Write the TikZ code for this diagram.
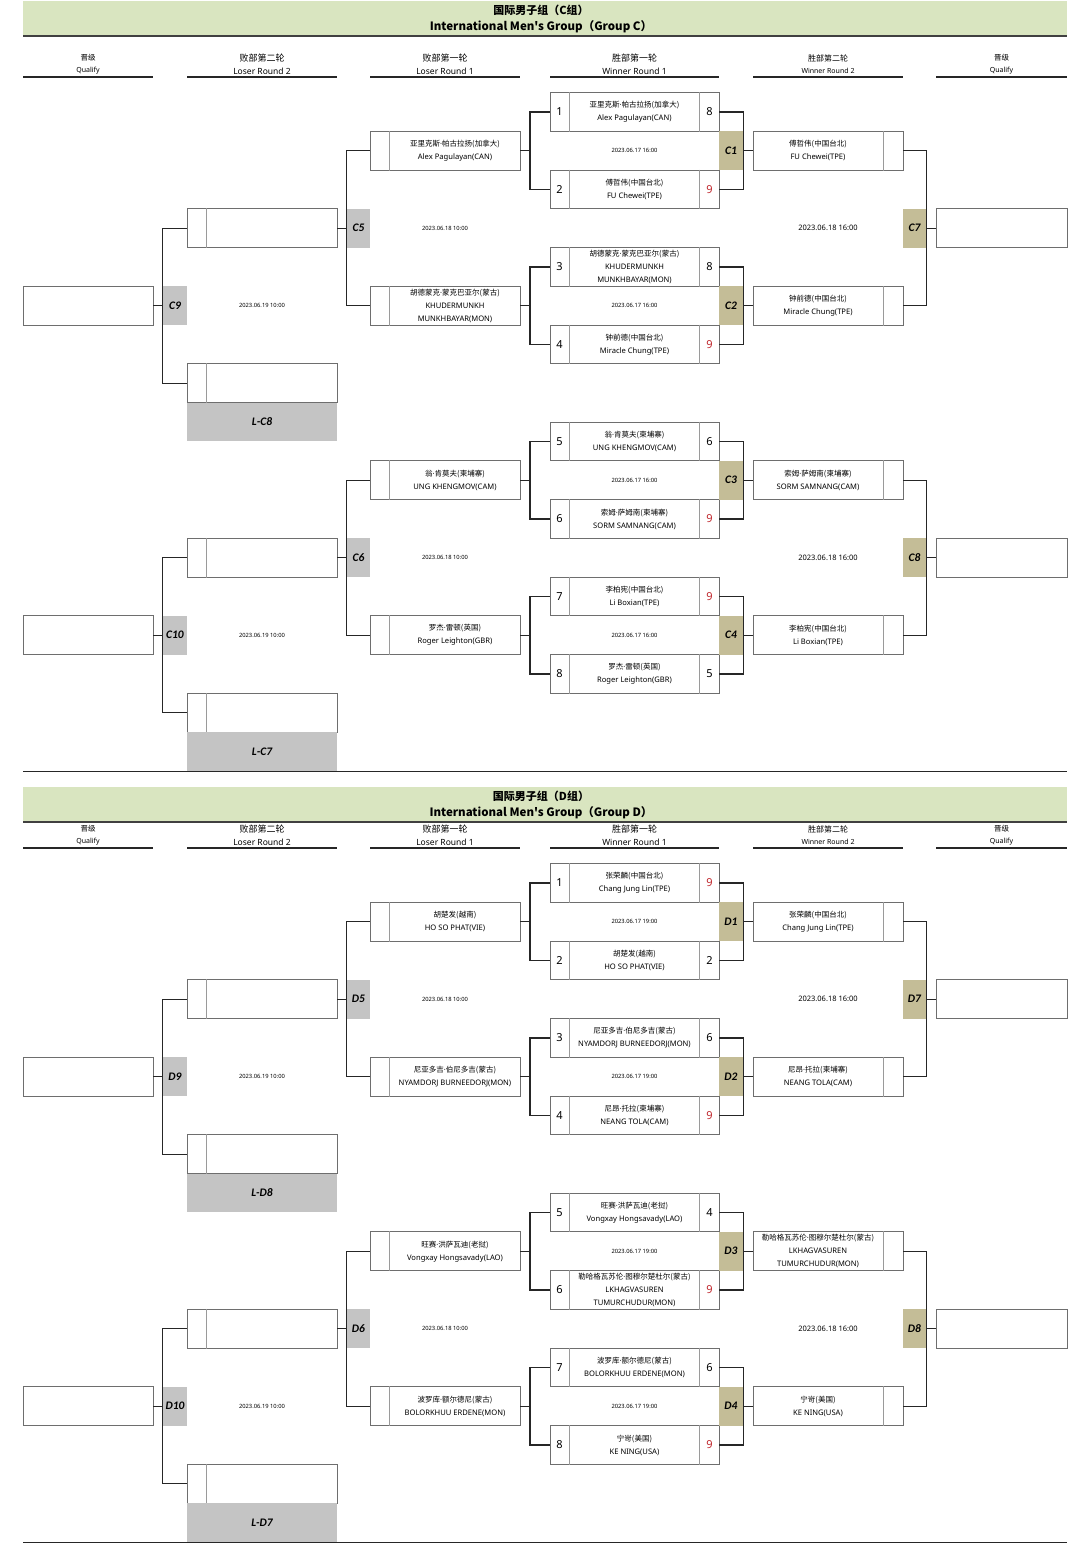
\documentclass[tikz,border=0pt]{standalone}
\usepackage{fontspec}
\setmainfont{Noto Sans}
\newfontfamily\cjk{Noto Sans CJK SC}
\newfontfamily\labf{Carlito}
\definecolor{band}{HTML}{D9E5C0}
\definecolor{khaki}{HTML}{C4BD97}
\definecolor{lgray}{HTML}{C4C4C4}
\definecolor{boxgray}{HTML}{6E6E6E}
\definecolor{divgray}{HTML}{9A9A9A}
\definecolor{scorered}{HTML}{C0272D}
\newcommand\zh[1]{{\cjk\fontsize{7.5}{13}\selectfont #1}}
\newcommand\md{{\rmfamily ·}}
\newcommand\wsc[1]{\textcolor{scorered}{#1}}
\tikzset{
  box/.style={draw=boxgray, line width=0.8pt, fill=white, rectangle, minimum height=38.75pt, inner sep=0pt},
  div/.style={draw=divgray, line width=1.2pt},
  conn/.style={draw=black!85, line width=1.2pt},
  seednum/.style={font=\fontsize{11}{13}\selectfont, inner sep=0pt},
  pname/.style={font=\fontsize{7.6}{13}\selectfont, align=center, inner sep=0pt},
  wlab/.style={fill=khaki, rectangle, minimum width=24pt, minimum height=38.75pt, inner sep=0pt, font=\labf\bfseries\itshape\fontsize{11.5}{13}\selectfont},
  llab/.style={wlab, fill=lgray},
  datesm/.style={font=\fontsize{5.8}{7}\selectfont, inner sep=0pt},
  datebig/.style={font=\fontsize{7.5}{9}\selectfont, inner sep=0pt},
}
\newcommand\WRb[5]{%
  \node[box, minimum width=169pt] (#1) at (634.5,{#2}) {};
  \draw[div] ([xshift=20pt]#1.north west) -- ([xshift=20pt]#1.south west);
  \draw[div] ([xshift=-20pt]#1.north east) -- ([xshift=-20pt]#1.south east);
  \node[seednum] (#1-s) at ([xshift=10pt]#1.west) {#3};
  \node[pname] (#1-t) at (#1.center) {#4};
  \node[seednum] (#1-c) at ([xshift=-10pt]#1.east) {#5};
}
\newcommand\LRb[3]{%
  \node[box, minimum width=150pt] (#1) at (445,{#2}) {};
  \draw[div] ([xshift=20pt]#1.north west) -- ([xshift=20pt]#1.south west);
  \node[pname] (#1-t) at (455,{#2}) {#3};
}
\newcommand\LRtwo[2]{%
  \node[box, minimum width=150pt] (#1) at (262,{#2}) {};
  \draw[div] ([xshift=20pt]#1.north west) -- ([xshift=20pt]#1.south west);
}
\newcommand\RRb[3]{%
  \node[box, minimum width=150pt] (#1) at (828,{#2}) {};
  \draw[div] ([xshift=-20pt]#1.north east) -- ([xshift=-20pt]#1.south east);
  \node[pname] (#1-t) at (818,{#2}) {#3};
}
\newcommand\Half[9]{%
  \WRb{#1w1}{#2}{#9}{\TxA}{\ScA}
  \WRb{#1w2}{#2+77.5}{\the\numexpr#9+1\relax}{\TxB}{\ScB}
  \WRb{#1w3}{#2+155}{\the\numexpr#9+2\relax}{\TxC}{\ScC}
  \WRb{#1w4}{#2+232.5}{\the\numexpr#9+3\relax}{\TxD}{\ScD}
  \RRb{#1r1}{#2+38.75}{\RxA}
  \RRb{#1r2}{#2+193.75}{\RxB}
  \LRb{#1l1}{#2+38.75}{\LxA}
  \LRb{#1l2}{#2+193.75}{\LxB}
  \LRtwo{#1p1}{#2+116.25}
  \LRtwo{#1p2}{#2+271.25}
  \node[box, minimum width=131pt] (#1qr) at (1001.5,{#2+116.25}) {};
  \node[box, minimum width=130pt] (#1ql) at (88,{#2+193.75}) {};
  \node[wlab] (#1m1) at (731,{#2+38.75}) {#3};
  \node[wlab] (#1m2) at (731,{#2+193.75}) {#4};
  \node[wlab, minimum width=23pt] (#1m3) at (914.5,{#2+116.25}) {#5};
  \node[llab, minimum width=23pt] (#1m4) at (358.5,{#2+116.25}) {#6};
  \node[llab] (#1m5) at (175,{#2+193.75}) {#7};
  \node[llab, minimum width=150pt] (#1lx) at (262,{#2+310}) {#8};
  \node[datesm] (#1d1) at (634.5,{#2+38.75}) {\DtA};
  \node[datesm] (#1d2) at (634.5,{#2+193.75}) {\DtA};
  \node[datebig] (#1d3) at (828,{#2+116.25}) {\DtB};
  \node[datesm] (#1d4) at (445,{#2+116.25}) {\DtC};
  \node[datesm] (#1d5) at (262,{#2+193.75}) {\DtD};
  \coordinate (#1j1) at (530,{#2+38.75});
  \coordinate (#1j2) at (530,{#2+193.75});
  \draw[conn] (#1w1.west) -| (#1j1) |- (#1w2.west);
  \draw[conn] (#1w3.west) -| (#1j2) |- (#1w4.west);
  \draw[conn] (#1l1.east) -- (#1j1);
  \draw[conn] (#1l2.east) -- (#1j2);
  \draw[conn] (#1w1.east) -| (#1m1.east) |- (#1w2.east);
  \draw[conn] (#1w3.east) -| (#1m2.east) |- (#1w4.east);
  \draw[conn] (#1m1.east) -- (#1r1.west);
  \draw[conn] (#1m2.east) -- (#1r2.west);
  \draw[conn] (#1r1.east) -| (#1m3.east) |- (#1r2.east);
  \draw[conn] (#1m3.east) -- (#1qr.west);
  \draw[conn] (#1l1.west) -| (#1m4.west) |- (#1l2.west);
  \draw[conn] (#1m4.west) -- (#1p1.east);
  \draw[conn] (#1p1.west) -| (#1m5.west) |- (#1p2.west);
  \draw[conn] (#1m5.west) -- (#1ql.east);
}
\newcommand\ColHd[8]{% name, x1, x2, y, zh, en, zhsize, ensize
  \node[font=\cjk\fontsize{#7}{#7}\selectfont, inner sep=0pt] (#1z) at ({(#2+#3)/2},{#4}) {#5};
  \node[font=\fontsize{#8}{#8}\selectfont, inner sep=0pt] (#1e) at ({(#2+#3)/2},{#4+13}) {#6};
  \draw[line width=1.2pt, black!85] (#2,{#4+19}) -- (#3,{#4+19});
}
\newcommand\GrpHead[4]{% prefix, band top, col y, letter
  \fill[band] (23,{#2}) rectangle (1067,{#2+35});
  \draw[line width=1.5pt, black!75] (23,{#2+35}) -- (1067,{#2+35});
  \node[font=\cjk\bfseries\fontsize{11}{12}\selectfont, inner sep=0pt] (#1t1) at (541,{#2+9}) {国际男子组（#4组）};
  \node[font=\cjk\bfseries\fontsize{11.5}{12}\selectfont, inner sep=0pt] (#1t2) at (541,{#2+26}) {International Men's Group（Group #4）};
  \ColHd{#1a}{23}{153}{#3}{晋级}{Qualify}{7.5}{7}
  \ColHd{#1b}{187}{337}{#3}{败部第二轮}{Loser Round 2}{9}{8.5}
  \ColHd{#1c}{370}{520}{#3}{败部第一轮}{Loser Round 1}{9}{8.5}
  \ColHd{#1d}{550}{719}{#3}{胜部第一轮}{Winner Round 1}{9}{8.5}
  \ColHd{#1e}{753}{903}{#3}{胜部第二轮}{Winner Round 2}{8}{7}
  \ColHd{#1f}{936}{1067}{#3}{晋级}{Qualify}{7.5}{7}
}
\begin{document}
\begin{tikzpicture}[x={(1pt,0)}, y={(0,-1pt)}]
\useasboundingbox (0,0) rectangle (1080,1559);
\fill[white] (0,0) rectangle (1080,1559);
% ---------------- Group C
\GrpHead{hc}{1}{58}{C}
% half 1
\def\TxA{\zh{亚里克斯\md 帕古拉扬(加拿大)}\\Alex Pagulayan(CAN)}
\def\TxB{\zh{傅哲伟(中国台北)}\\FU Chewei(TPE)}
\def\TxC{\zh{胡德蒙克\md 蒙克巴亚尔(蒙古)}\\KHUDERMUNKH\\MUNKHBAYAR(MON)}
\def\TxD{\zh{钟前德(中国台北)}\\Miracle Chung(TPE)}
\def\ScA{8}\def\ScB{\wsc{9}}\def\ScC{8}\def\ScD{\wsc{9}}
\def\RxA{\zh{傅哲伟(中国台北)}\\FU Chewei(TPE)}
\def\RxB{\zh{钟前德(中国台北)}\\Miracle Chung(TPE)}
\def\LxA{\zh{亚里克斯\md 帕古拉扬(加拿大)}\\Alex Pagulayan(CAN)}
\def\LxB{\zh{胡德蒙克\md 蒙克巴亚尔(蒙古)}\\KHUDERMUNKH\\MUNKHBAYAR(MON)}
\def\DtA{2023.06.17 16:00}\def\DtB{2023.06.18 16:00}\def\DtC{2023.06.18 10:00}\def\DtD{2023.06.19 10:00}
\Half{ca}{112}{C1}{C2}{C7}{C5}{C9}{L-C8}{1}
% half 2
\def\TxA{\zh{翁\md 肯莫夫(柬埔寨)}\\UNG KHENGMOV(CAM)}
\def\TxB{\zh{索姆\md 萨姆南(柬埔寨)}\\SORM SAMNANG(CAM)}
\def\TxC{\zh{李柏宪(中国台北)}\\Li Boxian(TPE)}
\def\TxD{\zh{罗杰\md 雷顿(英国)}\\Roger Leighton(GBR)}
\def\ScA{6}\def\ScB{\wsc{9}}\def\ScC{\wsc{9}}\def\ScD{5}
\def\RxA{\zh{索姆\md 萨姆南(柬埔寨)}\\SORM SAMNANG(CAM)}
\def\RxB{\zh{李柏宪(中国台北)}\\Li Boxian(TPE)}
\def\LxA{\zh{翁\md 肯莫夫(柬埔寨)}\\UNG KHENGMOV(CAM)}
\def\LxB{\zh{罗杰\md 雷顿(英国)}\\Roger Leighton(GBR)}
\Half{cb}{441.5}{C3}{C4}{C8}{C6}{C10}{L-C7}{5}
\draw[line width=0.9pt, black!85] (23,771) -- (1067,771);
% ---------------- Group D
\GrpHead{hd}{787}{829}{D}
\def\TxA{\zh{张荣麟(中国台北)}\\Chang Jung Lin(TPE)}
\def\TxB{\zh{胡楚发(越南)}\\HO SO PHAT(VIE)}
\def\TxC{\zh{尼亚多吉\md 伯尼多吉(蒙古)}\\NYAMDORJ BURNEEDORJ(MON)}
\def\TxD{\zh{尼昂\md 托拉(柬埔寨)}\\NEANG TOLA(CAM)}
\def\ScA{\wsc{9}}\def\ScB{2}\def\ScC{6}\def\ScD{\wsc{9}}
\def\RxA{\zh{张荣麟(中国台北)}\\Chang Jung Lin(TPE)}
\def\RxB{\zh{尼昂\md 托拉(柬埔寨)}\\NEANG TOLA(CAM)}
\def\LxA{\zh{胡楚发(越南)}\\HO SO PHAT(VIE)}
\def\LxB{\zh{尼亚多吉\md 伯尼多吉(蒙古)}\\NYAMDORJ BURNEEDORJ(MON)}
\def\DtA{2023.06.17 19:00}
\Half{da}{883}{D1}{D2}{D7}{D5}{D9}{L-D8}{1}
\def\TxA{\zh{旺赛\md 洪萨瓦迪(老挝)}\\Vongxay Hongsavady(LAO)}
\def\TxB{\zh{勒哈格瓦苏伦\md 图穆尔楚杜尔(蒙古)}\\LKHAGVASUREN\\TUMURCHUDUR(MON)}
\def\TxC{\zh{波罗库\md 额尔德尼(蒙古)}\\BOLORKHUU ERDENE(MON)}
\def\TxD{\zh{宁岢(美国)}\\KE NING(USA)}
\def\ScA{4}\def\ScB{\wsc{9}}\def\ScC{6}\def\ScD{\wsc{9}}
\def\RxA{\zh{勒哈格瓦苏伦\md 图穆尔楚杜尔(蒙古)}\\LKHAGVASUREN\\TUMURCHUDUR(MON)}
\def\RxB{\zh{宁岢(美国)}\\KE NING(USA)}
\def\LxA{\zh{旺赛\md 洪萨瓦迪(老挝)}\\Vongxay Hongsavady(LAO)}
\def\LxB{\zh{波罗库\md 额尔德尼(蒙古)}\\BOLORKHUU ERDENE(MON)}
\Half{db}{1212.5}{D3}{D4}{D8}{D6}{D10}{L-D7}{5}
\draw[line width=0.9pt, black!85] (23,1542) -- (1067,1542);
\end{tikzpicture}
\end{document}
